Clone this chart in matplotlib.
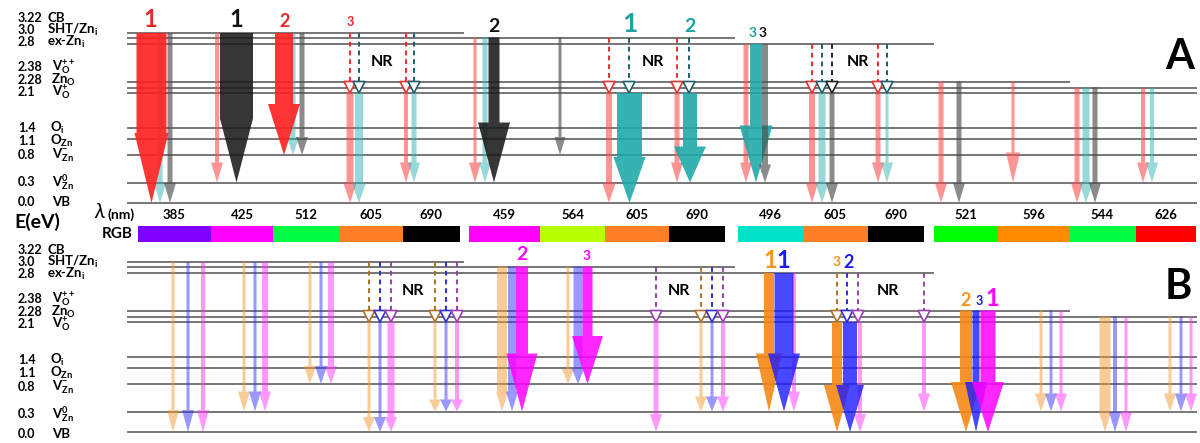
import matplotlib
matplotlib.use('Agg')
import matplotlib.pyplot as plt
from matplotlib.patches import FancyArrow, Polygon

plt.rcParams['font.family'] = ['Lato', 'DejaVu Sans']
plt.rcParams['mathtext.fontset'] = 'custom'
plt.rcParams['mathtext.rm'] = 'Lato'
plt.rcParams['mathtext.bf'] = 'Lato:bold'
plt.rcParams['mathtext.it'] = 'Lato:italic'

# Energy levels (eV) and the defect state of each level
energy_labels = ['3.22', '3.0', '2.8', '2.38', '2.28', '2.1', '1.4', '1.1', '0.8', '0.3', '0.0']
state_labels = ['CB', r'SHT/Zn$_{\mathbf{i}}$', r'ex-Zn$_{\mathbf{i}}$',
                r'V$_{\mathbf{O}}^{\mathbf{++}}$', r'Zn$_{\mathbf{O}}$', r'V$_{\mathbf{O}}^{\mathbf{+}}$',
                r'O$_{\mathbf{i}}$', r'O$_{\mathbf{Zn}}$', r'V$_{\mathbf{Zn}}^{\mathbf{-}}$',
                r'V$_{\mathbf{Zn}}^{\mathbf{0}}$', 'VB']

# Emission wavelengths (nm) and their RGB colours, four blocks
wavelengths = [385, 425, 512, 605, 690, 459, 564, 605, 690, 496, 605, 690, 521, 596, 544, 626]
rgb_colors = ['#7f00ff', '#ff00ff', '#00ff44', '#ff7f27', '#000000',
              '#ff00ff', '#b5ff00', '#ff7f27', '#000000',
              '#00e3c8', '#ff7f27', '#000000',
              '#00ff00', '#ff8c00', '#00ff44', '#ff0000']

# ---- layout of the schematic (pixel units) ----
level_offset = [0, 4.5, 11, 48.5, 54.5, 60, 95, 106, 122, 149.5, 170]
label_offset = [-15, -3, 9, 34, 47, 59, 95, 108, 122, 149, 169]
name_x = [47, 47, 47, 52, 51, 52, 50, 50, 52, 52, 52]
line_end = [463, 734, 933, 1069, 1196, 1196, 1196, 1196, 1196, 1196, 1196]
panel_top = {'A': 33, 'B': 262}
label_shift = {'A': 0, 'B': 3}
bar_bounds = [[138, 211, 273, 339, 403, 460], [469, 540, 605, 669, 725],
              [738, 803, 868, 924], [934, 998, 1069, 1136, 1196]]

col = {
    'r': (1.0, 0.12, 0.12, 0.9), 'rl': (1.0, 0.3, 0.3, 0.6),
    'k': (0.1, 0.1, 0.1, 0.88), 'g': (0.3, 0.3, 0.3, 0.65),
    't': (0.1, 0.66, 0.66, 0.88), 'tl': (0.2, 0.7, 0.7, 0.5),
    'o': (0.96, 0.53, 0.08, 0.9), 'ol': (0.96, 0.6, 0.2, 0.5),
    'b': (0.1, 0.1, 1.0, 0.8), 'bl': (0.2, 0.2, 1.0, 0.5),
    'm': (1.0, 0.0, 1.0, 0.85), 'ml': (1.0, 0.2, 1.0, 0.5),
    'rd': '#e8302f', 'td': '#1d5e6a', 'kd': '#222222',
    'od': '#b0702a', 'bd': '#2f2fd0', 'md': '#9a3fb0',
}

# arrows: x, from level, to level, colour, shaft width, head width, head length
arrows_A = [
    (160, 0, 10, 'tl', 5, 12, 20), (151.5, 0, 10, 'r', 30, 34, 70), (170, 0, 10, 'g', 5, 12, 20),
    (217, 0, 9, 'rl', 4, 12, 20), (236.5, 0, 9, 'k', 33, 33, 64),
    (293, 0, 8, 'tl', 5, 12, 18), (284, 0, 8, 'r', 18, 32, 51), (302, 0, 8, 'g', 5, 12, 18),
    (350, 5, 10, 'rl', 7, 13, 20), (359, 5, 10, 'tl', 8, 14, 20),
    (406, 5, 9, 'rl', 4, 12, 20), (414, 5, 9, 'tl', 5, 12, 20),
    (475, 1, 9, 'rl', 3, 12, 20), (485, 1, 9, 'tl', 5, 12, 20), (494, 1, 9, 'k', 11, 32, 60),
    (560, 1, 8, 'g', 3, 11, 18),
    (609, 5, 10, 'rl', 6, 13, 20), (629.5, 5, 10, 't', 25, 32, 46),
    (677, 5, 9, 'rl', 5, 12, 20), (690, 5, 9, 't', 14, 32, 36),
    (746, 2, 9, 'rl', 5, 12, 20), (756, 2, 9, 't', 12, 33, 57), (765, 2, 9, 'g', 6, 12, 18),
    (812, 5, 10, 'rl', 6, 12, 20), (822, 5, 10, 'tl', 7, 13, 20), (832, 5, 10, 'g', 5, 12, 20),
    (878, 5, 9, 'rl', 5, 12, 20), (887, 5, 9, 'tl', 3, 12, 20),
    (941, 3, 10, 'rl', 5, 12, 20), (959, 3, 10, 'g', 5, 12, 20),
    (1013, 3, 9, 'rl', 3, 14, 30),
    (1077, 4, 10, 'rl', 5, 12, 20), (1086, 4, 10, 'tl', 7, 13, 20), (1095, 4, 10, 'g', 5, 12, 20),
    (1143, 4, 9, 'rl', 4, 12, 20), (1152, 4, 9, 'tl', 4, 12, 20),
]
arrows_B = [
    (173, 0, 10, 'ol', 3, 12, 22), (188, 0, 10, 'bl', 3, 12, 22), (203, 0, 10, 'ml', 4, 12, 22),
    (244, 0, 9, 'ol', 3, 12, 20), (255, 0, 9, 'bl', 3, 12, 20), (265, 0, 9, 'ml', 6, 12, 20),
    (310, 0, 8, 'ol', 3, 12, 18), (321, 0, 8, 'bl', 3, 12, 18), (331, 0, 8, 'ml', 6, 12, 18),
    (369, 5, 10, 'ol', 3, 12, 15), (380, 5, 10, 'bl', 3, 12, 15), (391, 5, 10, 'ml', 7, 12, 15),
    (435, 5, 9, 'ol', 3, 12, 12), (446, 5, 9, 'bl', 3, 12, 12), (457, 5, 9, 'ml', 4, 12, 12),
    (502, 1, 9, 'ol', 10, 12, 20), (512, 1, 9, 'bl', 8, 12, 20), (522, 1, 9, 'm', 12, 31, 58),
    (568, 1, 8, 'ol', 3, 12, 15), (578, 1, 8, 'bl', 9, 12, 15), (587.5, 1, 8, 'm', 10, 31, 48),
    (656, 5, 10, 'ml', 5, 12, 18),
    (701, 5, 9, 'ol', 3, 12, 15), (712, 5, 9, 'bl', 3, 12, 15), (723, 5, 9, 'ml', 4, 12, 15),
    (794, 2, 9, 'ml', 4, 12, 20), (769, 2, 9, 'o', 10, 26, 58), (784, 2, 9, 'b', 19, 32, 58),
    (860, 5, 10, 'ml', 4, 12, 18), (837, 5, 10, 'o', 10, 26, 47), (850, 5, 10, 'b', 14, 28, 47),
    (924, 5, 9, 'ml', 4, 12, 18),
    (966, 3, 10, 'o', 12, 30, 50), (976, 3, 10, 'b', 7, 22, 50), (988, 3, 10, 'm', 15, 32, 50),
    (1041, 3, 9, 'ol', 3, 12, 18), (1051, 3, 9, 'bl', 3, 12, 18), (1061, 3, 9, 'ml', 3, 12, 18),
    (1105, 4, 10, 'ol', 11, 12, 20), (1115, 4, 10, 'bl', 4, 12, 20), (1126, 4, 10, 'ml', 3, 12, 20),
    (1170, 4, 9, 'ol', 3, 12, 18), (1181, 4, 9, 'bl', 3, 12, 18), (1191, 4, 9, 'ml', 3, 12, 18),
]
# non-radiative steps: x, start level, dash colour
nr_A = [(350, 0, 'rd'), (359, 0, 'td'), (406, 0, 'rd'), (414, 0, 'td'),
        (609, 1, 'rd'), (629, 1, 'td'), (677, 1, 'rd'), (689, 1, 'td'),
        (812, 2, 'rd'), (822, 2, 'td'), (832, 2, 'kd'), (878, 2, 'rd'), (887, 2, 'td')]
nr_B = [(369, 0, 'od'), (380, 0, 'bd'), (391, 0, 'md'), (435, 0, 'od'), (446, 0, 'bd'), (457, 0, 'md'),
        (656, 1, 'md'), (701, 1, 'od'), (712, 1, 'bd'), (723, 1, 'md'),
        (837, 2, 'od'), (847, 2, 'bd'), (858, 2, 'md'), (924, 2, 'md')]
nr_text = {'A': [382, 653, 858], 'B': [413, 679, 888]}

red, black, teal = '#e8262b', '#111111', '#1aa3a3'
mag, orange, blue = '#ff00ff', '#f7941d', '#1c1cf0'
# intensity rank labels: x, y, text, colour, size
ranks = [(150, 19, '1', red, 17), (236, 19, '1', black, 17), (285, 21, '2', red, 13),
         (350, 22, '3', red, 9), (494, 26, '2', black, 14), (630, 24, '1', teal, 19),
         (690, 26, '2', teal, 14), (753, 33, '3', teal, 10), (763, 33, '3', black, 10),
         (522, 255, '2', mag, 14), (587, 256, '3', mag, 10), (770, 260, '1', orange, 17),
         (783, 260, '1', blue, 17), (837, 262, '3', orange, 10), (849, 262, '2', blue, 13),
         (966, 300, '2', orange, 13), (979, 301, '3', blue, 9), (992, 298, '1', mag, 17)]

fig = plt.figure(figsize=(12, 4.43), dpi=100)
ax = fig.add_axes([0, 0, 1, 1])
ax.set_xlim(0, 1200)
ax.set_ylim(443, 0)
ax.axis('off')


def level_y(panel, i):
    return panel_top[panel] + level_offset[i]


for panel, arrows, nrs in [('A', arrows_A, nr_A), ('B', arrows_B, nr_B)]:
    # energy level lines and labels
    for i in range(len(energy_labels)):
        y = level_y(panel, i)
        ax.plot([128, line_end[i]], [y, y], color='#767676', lw=1.4, zorder=1)
        ty = panel_top[panel] + label_offset[i] + label_shift[panel]
        ax.text(18, ty, energy_labels[i], fontsize=9, fontweight='bold',
                va='center', ha='left')
        ax.text(name_x[i], ty, state_labels[i], fontsize=9.5, fontweight='bold',
                va='center', ha='left')

    # dashed non-radiative drops ending in open triangles
    for x, lev, c in nrs:
        y0 = level_y(panel, lev)
        y1 = level_y(panel, 3)
        ax.plot([x, x], [y0, y1], color=col[c], lw=1.4, ls=(0, (2.5, 2)), zorder=3)
        tri = Polygon([[x - 6, y1], [x + 6, y1], [x, level_y(panel, 5)]],
                      closed=True, facecolor='white', edgecolor=col[c], lw=1.2, zorder=4)
        ax.add_patch(tri)
    for x in nr_text[panel]:
        ax.text(x, level_y(panel, 0) + 29, 'NR', fontsize=11.5, fontweight='bold',
                ha='center', va='center')

    # radiative transitions
    for x, lev0, lev1, c, w, hw, hl in arrows:
        y0 = level_y(panel, lev0)
        y1 = level_y(panel, lev1)
        ax.add_patch(FancyArrow(x, y0, 0, y1 - y0, width=w, head_width=hw,
                                head_length=hl, length_includes_head=True,
                                facecolor=col[c], edgecolor='none', lw=0, zorder=2))

for x, y, s, c, size in ranks:
    ax.text(x, y, s, color=c, fontsize=size, fontweight='bold', ha='center', va='center')

# wavelength row and RGB colour bar
edges = []
for b in bar_bounds:
    edges += list(zip(b[:-1], b[1:]))
for (x0, x1), wl, c in zip(edges, wavelengths, rgb_colors):
    ax.bar((x0 + x1) / 2, 16, width=x1 - x0, bottom=226, color=c, linewidth=0)
    ax.text((x0 + x1) / 2, 215, str(wl), fontsize=9.5, fontweight='bold',
            ha='center', va='center')

ax.text(37, 222, 'E(eV)', fontsize=14, fontweight='bold', ha='center', va='center')
ax.text(100, 212, r'$\lambda$', fontsize=15, ha='center', va='center',
        family='DejaVu Serif')
ax.text(107, 215, '(nm)', fontsize=10, fontweight='bold', ha='left', va='center')
ax.text(117, 234, 'RGB', fontsize=11, fontweight='bold', ha='center', va='center')

ax.text(1180, 57, 'A', fontsize=30, fontweight='bold', ha='center', va='center')
ax.text(1178, 287, 'B', fontsize=30, fontweight='bold', ha='center', va='center')

fig.savefig('out.png', dpi=100)
